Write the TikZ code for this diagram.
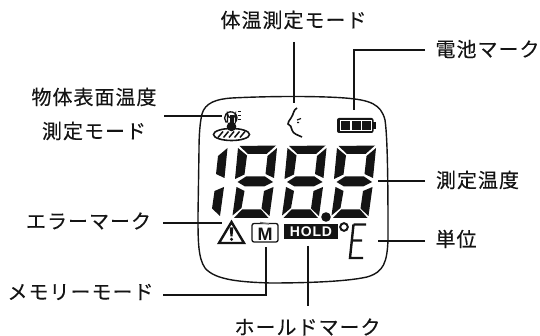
\documentclass[tikz,border=0pt]{standalone}
\usepackage{fontspec}
\newfontfamily\jpfont[LetterSpace=5,FakeBold=0.25]{Noto Sans CJK JP}
\newfontfamily\holdfont[LetterSpace=6]{Liberation Sans}
\newfontfamily\memfont{Liberation Sans}
\definecolor{ink}{HTML}{141414}
\newcommand{\lcdA}{\fill[ink] (338.5,146)--(375,145.5)--(365.5,154)--(347,154)--cycle;}
\newcommand{\lcdB}{\fill[ink] (376,148)--(373,178)--(364.5,174)--(366.5,156)--cycle;}
\newcommand{\lcdC}{\fill[ink] (372.5,187)--(368.5,216)--(360.5,208.5)--(363,191)--cycle;}
\newcommand{\lcdD}{\fill[ink] (333,218)--(341,209.5)--(360,209.5)--(367.5,218)--cycle;}
\newcommand{\lcdE}{\fill[ink] (335.5,187)--(343.5,191)--(340.5,208)--(331.5,215.5)--cycle;}
\newcommand{\lcdF}{\fill[ink] (337,148)--(346,155.5)--(343.5,174.5)--(334,179)--cycle;}
\newcommand{\lcdG}{\fill[ink] (336.5,182)--(345,176.5)--(364,176.5)--(372,182)--(363,186.5)--(344,186.5)--cycle;}
\newcommand{\lcdEight}{\lcdA\lcdB\lcdC\lcdD\lcdE\lcdF\lcdG}
\tikzset{
  lbl/.style={font=\jpfont\fontsize{20}{24}\selectfont, text=ink, inner sep=0pt, align=center},
  conn/.style={draw=ink, line width=1.8pt},
  panel/.style={draw=ink, line width=1.4pt}
}
\begin{document}
\begin{tikzpicture}[x=1pt,y=-1pt]
\useasboundingbox (0,0) rectangle (540,336);
% panel outline
\draw[panel] (199,150) .. controls (199,135) and (200,122) .. (202,114)
  .. controls (205,103) and (216,99) .. (232,98)
  .. controls (270,96) and (320,96) .. (345,98)
  .. controls (370,100) and (381,104) .. (385,120)
  .. controls (388,140) and (388,200) .. (388,240)
  .. controls (387,262) and (384,272) .. (367,277)
  .. controls (345,282) and (300,283) .. (270,283)
  .. controls (240,282) and (215,280) .. (205,268)
  .. controls (198,258) and (198,240) .. (198,215)
  -- cycle;
% digits
\begin{scope}[xshift=-148.5pt]\lcdB\lcdC\end{scope}
\begin{scope}[xshift=-99pt]\lcdEight\end{scope}
\begin{scope}[xshift=-49.5pt]\lcdEight\end{scope}
\lcdEight
\fill[ink] (326,217) circle (4.8);
% thermometer icon
\draw[ink,line width=1.6pt,fill=white] (231.5,134.5) ellipse (18 and 6);
\foreach \i in {-11,-5.5,0,5.5,11}{\draw[ink,line width=1.5pt] (231.5+\i-2.5,137.5) -- (231.5+\i+2.5,131.5);}
\draw[ink,line width=1.3pt,fill=white] (227.5,122) -- (227.5,114) arc (180:0:4) -- (235.5,122) arc (40:-220:6.2) -- cycle;
\fill[ink] (229.5,115) rectangle (233.5,124);
\fill[ink] (231.5,126.5) circle (4.8);
\foreach \y in {112,116,120}{\draw[ink,line width=1pt] (237.5,\y)--(240.5,\y);}
% face icon
\draw[ink,line width=1.6pt] (297,108) .. controls (293,110) and (294,114) .. (291,118)
  .. controls (289,121) and (288,122) .. (288,124) .. controls (291,125) and (291,127) .. (292,130)
  .. controls (293,134) and (298,135) .. (302,137);
\draw[ink,line width=1.2pt] (297,120)--(301,118.5) (297,122.5)--(299,122.5);
% battery icon
\fill[ink,rounded corners=2pt] (337,118) rectangle (373.5,133);
\fill[ink] (373,122) rectangle (375.5,129);
\foreach \x in {340.5,351,361.5}{\draw[white,line width=.6pt] (\x,120.5) rectangle (\x+10,130.5);}
% warning icon
\draw[ink,line width=2.4pt,line join=miter,fill=white] (231.5,222) -- (244,243) -- (219,243) -- cycle;
\fill[ink] (229.7,227.5) -- (233.3,227.5) -- (232.5,236.5) -- (230.5,236.5) -- cycle;
\fill[ink] (231.5,239.3) circle (1.7);
% memory icon
\draw[ink,line width=1.3pt,rounded corners=2pt] (252,223.5) rectangle (278,242);
\draw[ink!60,line width=1.4pt] (260,222.5)--(269,224);
\node[inner sep=0pt,text=ink] (memM) at (265,234) {\memfont\bfseries\fontsize{18}{18}\selectfont M};
% hold icon
\node[fill=ink,text=white,minimum width=54pt,minimum height=15pt,inner sep=0pt] (holdN) at (311,231.5) {\holdfont\bfseries\fontsize{14}{14}\selectfont HOLD};
% degree and unit
\draw[ink,line width=2pt] (344,227) circle (3.8);
\draw[ink,line width=2.4pt] (353.5,224.5) -- (366,224.5) (353.5,224.5) -- (350,258) -- (363,258) (352,240.5) -- (362,240.5);
% labels
\node[lbl] (lSurface) at (94,114) {物体表面温度\\[10pt]測定モード};
\node[lbl] (lBody) at (293.5,20) {体温測定モード};
\node[lbl] (lBatt) at (487.5,49) {電池マーク};
\node[lbl] (lTemp) at (477.5,180) {測定温度};
\node[lbl] (lUnit) at (456,239) {単位};
\node[lbl] (lErr) at (88.5,221) {エラーマーク};
\node[lbl] (lMem) at (80.5,292) {メモリーモード};
\node[lbl] (lHold) at (307.5,327) {ホールドマーク};
% connector ends
\coordinate (a1) at (164,116); \coordinate (a2) at (222,116);
\coordinate (b1) at (294,42);  \coordinate (b2) at (294,103);
\coordinate (c1) at (425,50);  \coordinate (c2) at (354,50); \coordinate (c3) at (354,110);
\coordinate (d1) at (425,181); \coordinate (d2) at (378,181);
\coordinate (e1) at (425,241); \coordinate (e2) at (378,241);
\coordinate (f1) at (308,246); \coordinate (f2) at (308,306);
\coordinate (g1) at (163,295); \coordinate (g2) at (266,295); \coordinate (g3) at (266,247);
\coordinate (h1) at (163,223); \coordinate (h2) at (222,223);
\draw[conn] (a1)--(a2);
\draw[conn] (b1)--(b2);
\draw[conn] (c1)--(c2)--(c3);
\draw[conn] (d1)--(d2);
\draw[conn] (e1)--(e2);
\draw[conn] (f1)--(f2);
\draw[conn] (g1)--(g2)--(g3);
\draw[conn] (h1)--(h2);
\end{tikzpicture}
\end{document}
